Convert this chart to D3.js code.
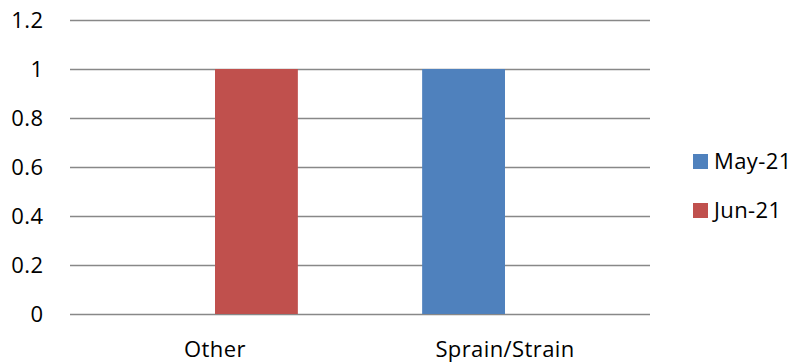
<!DOCTYPE html>
<html>
<head>
<meta charset="utf-8">
<script src="https://cdn.jsdelivr.net/npm/d3@7"></script>
<style>
  html, body { margin: 0; padding: 0; background: #fff; }
  svg { display: block; font-family: "Open Sans", "Liberation Sans", sans-serif; }
  text { letter-spacing: 0.4px; }
</style>
</head>
<body>
<svg id="chart" width="797" height="362"></svg>
<script>
// Injury categories and monthly counts
const categories = ["Other", "Sprain/Strain"];
const seriesNames = ["May-21", "Jun-21"];
const may21 = [0, 1];
const jun21 = [1, 0];
const yTicks = [0, 0.2, 0.4, 0.6, 0.8, 1, 1.2];
const colors = ["#4F81BD", "#C0504D"];

const seriesValues = [may21, jun21];
const svg = d3.select("#chart");
const margin = { left: 70, right: 147, top: 20, bottom: 48 };
const W = 797, H = 362;
const FONT = 22;

const x = d3.scaleBand().domain(categories).range([margin.left, W - margin.right]).paddingInner(0).paddingOuter(0);
const xs = d3.scaleBand().domain(seriesNames).range([0, x.bandwidth()]).paddingInner(0).paddingOuter(0.75);
const y = d3.scaleLinear().domain([0, 1.2]).range([H - margin.bottom, margin.top]);

// Gridlines
svg.append("g")
  .selectAll("line")
  .data(yTicks)
  .join("line")
  .attr("x1", margin.left)
  .attr("x2", W - margin.right)
  .attr("y1", d => Math.round(y(d)) + 0.5)
  .attr("y2", d => Math.round(y(d)) + 0.5)
  .attr("stroke", "#888")
  .attr("stroke-width", 1.3);

// Y axis labels
const yAxis = d3.axisLeft(y).tickValues(yTicks).tickSize(0).tickPadding(0).tickFormat(d3.format("~g"));
const ya = svg.append("g").attr("transform", `translate(43.5,0)`).call(yAxis);
ya.select(".domain").remove();
ya.selectAll("text").attr("font-size", FONT).attr("fill", "#000").attr("font-family", "Open Sans, Liberation Sans, sans-serif");

// Bars
const rows = [];
categories.forEach((c, i) => seriesNames.forEach((s, j) => rows.push({ c, s, v: seriesValues[j][i], j })));
svg.append("g")
  .selectAll("rect")
  .data(rows.filter(r => r.v > 0))
  .join("rect")
  .attr("x", d => x(d.c) + xs(d.s))
  .attr("width", xs.bandwidth())
  .attr("y", d => y(d.v))
  .attr("height", d => y(0) - y(d.v))
  .attr("fill", d => colors[d.j]);

// X axis labels
const xAxis = d3.axisBottom(x).tickSize(0).tickPadding(0);
const xa = svg.append("g").attr("transform", `translate(0,${y(0) + 27})`).call(xAxis);
xa.select(".domain").remove();
xa.selectAll("text").attr("font-size", FONT).attr("fill", "#000").attr("dy", "0.71em").attr("font-family", "Open Sans, Liberation Sans, sans-serif");

// Legend
const legend = svg.append("g").attr("transform", "translate(693,154)");
const li = legend.selectAll("g").data(seriesNames).join("g")
  .attr("transform", (d, i) => `translate(0,${i * 49})`);
li.append("rect").attr("width", 15).attr("height", 15).attr("fill", (d, i) => colors[i]);
li.append("text").attr("x", 21).attr("y", 7.5).attr("dy", "0.35em")
  .attr("font-size", FONT).attr("fill", "#000").text(d => d);
</script>
</body>
</html>
